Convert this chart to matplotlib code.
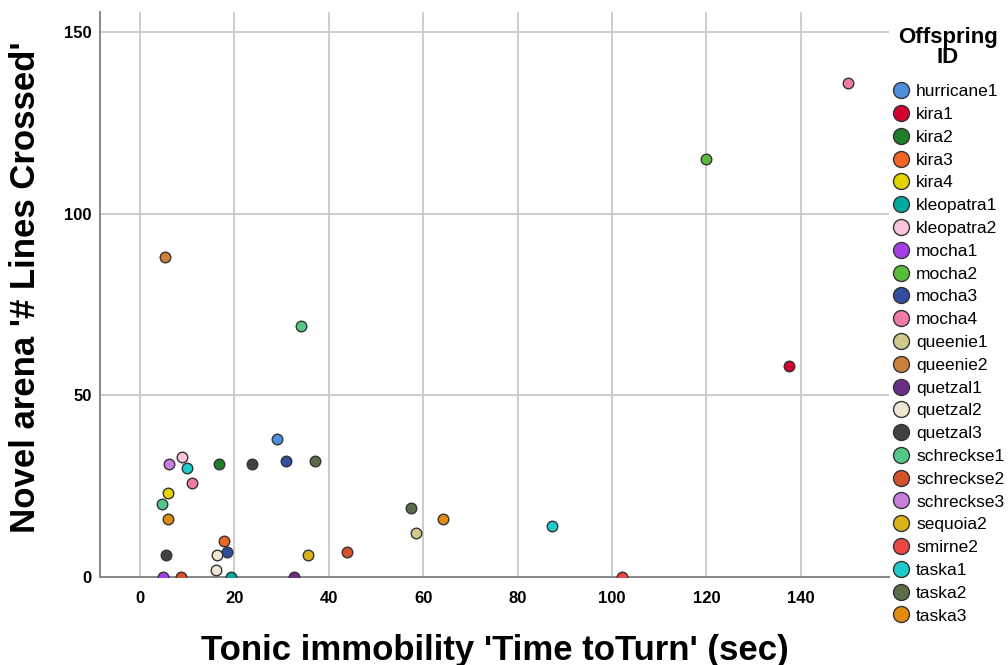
import numpy as np
import matplotlib
matplotlib.use("Agg")
import matplotlib.pyplot as plt
from matplotlib.lines import Line2D

# Offspring IDs, colours and the points
ids = ['hurricane1', 'kira1', 'kira2', 'kira3', 'kira4', 'kleopatra1', 'kleopatra2',
       'mocha1', 'mocha2', 'mocha3', 'mocha4', 'queenie1', 'queenie2', 'quetzal1',
       'quetzal2', 'quetzal3', 'schreckse1', 'schreckse2', 'schreckse3', 'sequoia2',
       'smirne2', 'taska1', 'taska2', 'taska3']
colores = ['#4f8fdf', '#d4002f', '#1f7e2a', '#f26526', '#e6d400', '#00a99c', '#fbc3de',
           '#a43fe8', '#5abd38', '#2f4f9e', '#f27aa8', '#d2c98c', '#cd803c', '#6b2d88',
           '#ece6d2', '#414141', '#52c884', '#d4532b', '#c97ddf', '#d9b21a',
           '#ee4545', '#1fcaca', '#5b6d48', '#e18b10']

tiempo = {
    'hurricane1': [29.0], 'kira1': [137.5], 'kira2': [16.7], 'kira3': [17.8],
    'kira4': [5.9], 'kleopatra1': [19.2], 'kleopatra2': [8.8], 'mocha1': [4.9],
    'mocha2': [120.0], 'mocha3': [30.9, 18.5], 'mocha4': [150.0, 11.1],
    'queenie1': [58.5], 'queenie2': [5.2], 'quetzal1': [32.6], 'quetzal2': [16.3, 16.0],
    'quetzal3': [23.8, 5.4], 'schreckse1': [34.0, 4.6], 'schreckse2': [43.8, 8.6],
    'schreckse3': [6.1], 'sequoia2': [35.6], 'smirne2': [102.2],
    'taska1': [87.3, 9.9], 'taska2': [57.4, 37.1], 'taska3': [64.1, 6.0],
}
lineas = {
    'hurricane1': [38], 'kira1': [58], 'kira2': [31], 'kira3': [10],
    'kira4': [23], 'kleopatra1': [0], 'kleopatra2': [33], 'mocha1': [0],
    'mocha2': [115], 'mocha3': [32, 7], 'mocha4': [136, 26],
    'queenie1': [12], 'queenie2': [88], 'quetzal1': [0], 'quetzal2': [6, 2],
    'quetzal3': [31, 6], 'schreckse1': [69, 20], 'schreckse2': [7, 0],
    'schreckse3': [31], 'sequoia2': [6], 'smirne2': [0],
    'taska1': [14, 30], 'taska2': [19, 32], 'taska3': [16, 16],
}

plt.rcParams['font.family'] = ['Liberation Sans', 'DejaVu Sans']

fig = plt.figure(figsize=(10.08, 6.65), dpi=100)
ax = fig.add_axes([100 / 1008, 88 / 665, 789 / 1008, 565 / 665])

for nombre, color in zip(ids, colores):
    ax.scatter(tiempo[nombre], lineas[nombre], s=58, color=color,
               edgecolors='#333333', linewidths=1.0, zorder=3)

ax.set_xlim(-8.5, 158.7)
ax.set_ylim(0, 155.5)
ax.set_xticks(np.arange(0, 141, 20))
ax.set_yticks([0, 50, 100, 150])
ax.grid(color='#cccccc', linewidth=1.4)
ax.set_axisbelow(True)
for lado in ['top', 'right']:
    ax.spines[lado].set_visible(False)
for lado in ['left', 'bottom']:
    ax.spines[lado].set_color('#888888')
    ax.spines[lado].set_linewidth(1.4)
ax.tick_params(length=0, labelsize=12)
ax.tick_params(axis='x', pad=10)
ax.tick_params(axis='y', pad=6)
for t in ax.get_xticklabels() + ax.get_yticklabels():
    t.set_fontweight('bold')
    t.set_family(['Liberation Sans Narrow', 'Liberation Sans'])

ax.set_xlabel("Tonic immobility 'Time toTurn' (sec)", fontsize=25,
              fontweight='bold', labelpad=20)
ax.set_ylabel("Novel arena '# Lines Crossed'", fontsize=25, fontweight='bold')
ax.yaxis.set_label_coords(-0.074, 0.513)

manijas = [Line2D([], [], linestyle='none', marker='o', markersize=11.5,
                  markerfacecolor=c, markeredgecolor='#333333', markeredgewidth=1.0)
           for c in colores]
ley = fig.legend(manijas, ids, loc='upper left', bbox_to_anchor=(891 / 1008, 1 - 27 / 665),
                 frameon=False, fontsize=12.5, title='Offspring\nID',
                 title_fontproperties={'weight': 'bold', 'size': 16},
                 handletextpad=0.35, labelspacing=0.44, handlelength=1.1,
                 borderaxespad=0, borderpad=0)
ley.get_title().set_multialignment('center')
ley.get_title().set_linespacing(0.95)
ley._legend_box.align = 'center'
ley._legend_box.sep = 11.5

fig.savefig('out.png', dpi=100)
